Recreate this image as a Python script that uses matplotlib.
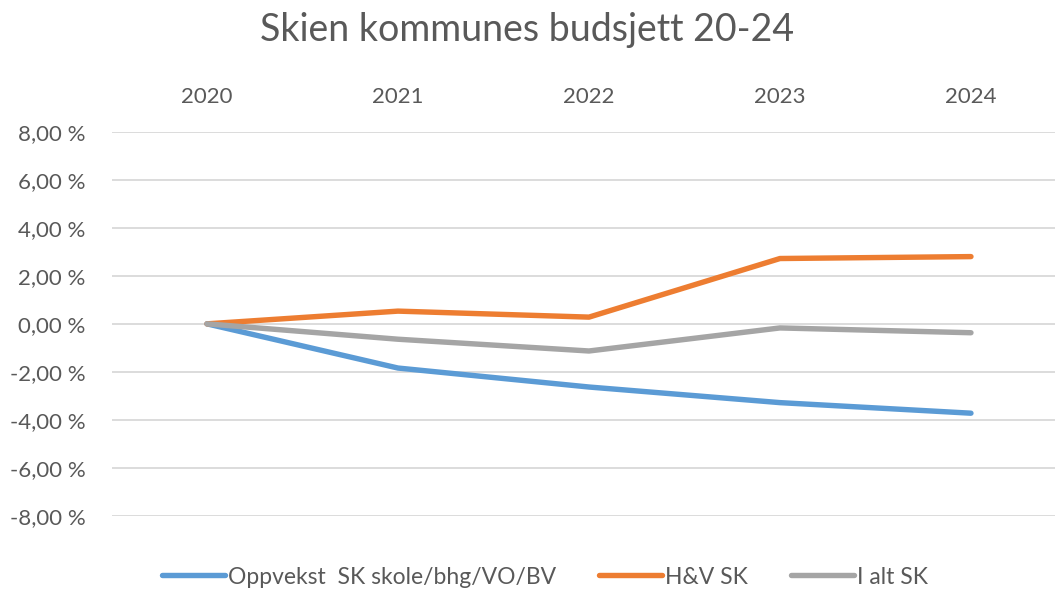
import matplotlib
matplotlib.use("Agg")
import matplotlib.pyplot as plt

years = ["2020", "2021", "2022", "2023", "2024"]
oppvekst = [0.0, -1.84, -2.63, -3.28, -3.72]
hv = [0.0, 0.53, 0.28, 2.72, 2.80]
i_alt = [0.0, -0.64, -1.13, -0.17, -0.37]
y_ticks = [-8, -6, -4, -2, 0, 2, 4, 6, 8]

series = [
    ("Oppvekst  SK skole/bhg/VO/BV", oppvekst, "#5B9BD5"),
    ("H&V SK", hv, "#ED7D31"),
    ("I alt SK", i_alt, "#A5A5A5"),
]

plt.rcParams["font.family"] = ["Lato", "DejaVu Sans"]
text_color = "#595959"

W, H = 1055, 589
fig = plt.figure(figsize=(W / 100, H / 100), dpi=100)
left = 111.5 / W
bottom = 1 - 516 / H
top = 1 - 131.7 / H
ax = fig.add_axes([left, bottom, 1 - left, top - bottom])

x = list(range(len(years)))
for label, vals, color in series:
    ax.plot(x, vals, color=color, lw=3.9, solid_capstyle="round",
            solid_joinstyle="round", label=label, zorder=3)

ax.set_xlim(-0.5, 4.44)
ax.set_ylim(-8, 8)
ax.set_yticks(y_ticks)
ax.set_yticklabels([f"{v:.2f}".replace(".", ",") + " %" for v in y_ticks])
ax.set_xticks(x)
ax.set_xticklabels(years)
ax.xaxis.tick_top()
ax.tick_params(axis="both", length=0, labelsize=16, colors=text_color)
ax.tick_params(axis="x", pad=18)
ax.tick_params(axis="y", pad=18.5)
ax.grid(axis="y", color="#D9D9D9", lw=1.3, zorder=0)
for s in ax.spines.values():
    s.set_visible(False)

fig.text(527 / W, 1 - 30 / H, "Skien kommunes budsjett 20-24", ha="center",
         va="center", fontsize=27, color=text_color)

fig.legend(loc="center", bbox_to_anchor=(545 / W, 1 - 577 / H), ncol=3,
           frameon=False, fontsize=16.5, labelcolor=text_color,
           handlelength=2.75, handletextpad=0.15, columnspacing=1.85)

fig.savefig("out.png", dpi=100)
